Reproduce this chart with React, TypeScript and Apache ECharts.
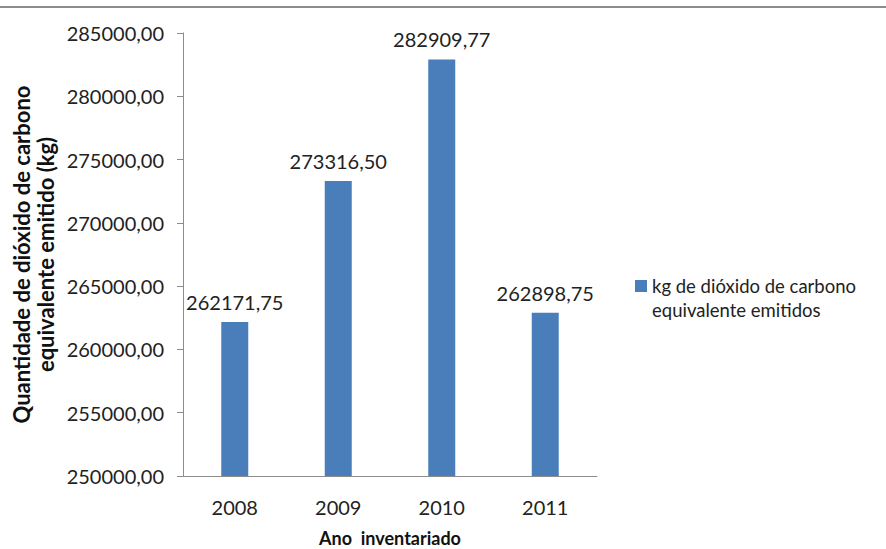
import React, { useEffect, useRef } from "react";
import * as echarts from "echarts";

const years = ["2008", "2009", "2010", "2011"];
const emissions = [262171.75, 273316.5, 282909.77, 262898.75];
const seriesName = "kg de dióxido de carbono";
const seriesNameLine2 = "equivalente emitidos";
const yMin = 250000;
const yMax = 285000;
const yStep = 5000;

const fmt = (v: number) => v.toFixed(2).replace(".", ",");
const FONT = "Lato, 'Open Sans', sans-serif";

export default function App() {
  const ref = useRef<HTMLDivElement>(null);

  useEffect(() => {
    if (!ref.current) return;
    const chart = echarts.init(ref.current, undefined, { renderer: "svg" });
    chart.setOption({
      animation: false,
      backgroundColor: "#ffffff",
      textStyle: { fontFamily: FONT },
      graphic: [
        {
          type: "line",
          shape: { x1: 0, y1: 7, x2: 886, y2: 7 },
          style: { stroke: "#8c8c8c", lineWidth: 2 },
        },
        {
          type: "text",
          left: 652,
          top: 299,
          style: {
            text: seriesNameLine2,
            fontSize: 18.5,
            fontFamily: FONT,
            fill: "#222",
            lineHeight: 22,
          },
        },
      ],
      grid: { left: 183, right: 289, top: 33, bottom: 73, outerBoundsMode: "none" },
      legend: {
        left: 635,
        top: 274,
        padding: 0,
        orient: "vertical",
        icon: "rect",
        itemWidth: 12,
        itemHeight: 12,
        textStyle: { fontSize: 18.5, color: "#222", lineHeight: 24, fontFamily: FONT },
      },
      xAxis: {
        type: "category",
        data: years,
        axisLine: { lineStyle: { color: "#8c8c8c" } },
        axisTick: { show: false },
        axisLabel: { fontSize: 20, color: "#222", margin: 21, fontFamily: FONT },
        name: "Ano  inventariado",
        nameLocation: "middle",
        nameGap: 53,
        nameTextStyle: { fontSize: 18, fontWeight: "bold", color: "#111", fontFamily: FONT },
      },
      yAxis: {
        type: "value",
        min: yMin,
        max: yMax,
        interval: yStep,
        splitLine: { show: false },
        axisLine: { show: true, lineStyle: { color: "#8c8c8c" } },
        axisTick: { show: true, inside: false, length: 6, lineStyle: { color: "#8c8c8c" } },
        axisLabel: { fontSize: 20, color: "#222", margin: 19, formatter: (v: number) => fmt(v), fontFamily: FONT },
        name: "Quantidade de dióxido de carbono\nequivalente emitido (kg)",
        nameLocation: "middle",
        nameGap: 126,
        nameTextStyle: { fontSize: 22, fontWeight: "bold", color: "#111", lineHeight: 24, fontFamily: FONT },
      },
      series: [
        {
          name: seriesName,
          type: "bar",
          data: emissions,
          barWidth: 27,
          itemStyle: { color: "#4a7ebb" },
          label: {
            show: true,
            position: "top",
            distance: 10,
            fontSize: 20,
            color: "#222",
            fontFamily: FONT,
            formatter: (p: any) => fmt(p.value),
          },
        },
      ],
    });
    return () => chart.dispose();
  }, []);

  return (
    <div
      ref={ref}
      style={{ position: "absolute", left: 0, top: 0, width: 886, height: 549 }}
    />
  );
}
